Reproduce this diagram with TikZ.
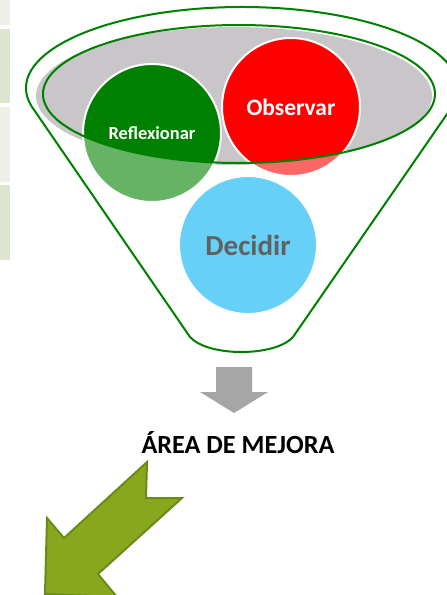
\documentclass[tikz,border=0pt]{standalone}
\usepackage{fontspec}
\setmainfont{Carlito}
\usepackage{tikz}
\definecolor{rimgreen}{HTML}{008000}
\definecolor{reflgreen}{HTML}{008000}
\definecolor{obsred}{HTML}{FF0000}
\definecolor{decblue}{HTML}{00B0F0}
\definecolor{rimgray}{HTML}{C8C6C8}
\definecolor{stripa}{HTML}{EEF0E8}
\definecolor{stripb}{HTML}{DDE4D0}
\definecolor{olive}{HTML}{88A61E}
\definecolor{olivedark}{HTML}{6B8A1A}
\tikzstyle{disc} = [circle, minimum size=138, inner sep=0pt, draw=white, line width=2pt, font=\bfseries]
\tikzstyle{rim} = [draw=rimgreen, line width=2pt]
\tikzstyle{inside} = [path picture={\fill[#1] (mid) ellipse[x radius=196, y radius=69];}]

\begin{document}
\begin{tikzpicture}[x=1pt, y=-1pt]
		\clip (0,0) rectangle (447,595);
		\fill[stripa] (0,0) rectangle (10,25);
		\fill[stripb] (0,29) rectangle (10,103);
		\fill[stripa] (0,107) rectangle (10,182);
		\fill[stripb] (0,185) rectangle (10,260);

		\coordinate (top) at (242,88);
		\coordinate (mid) at (239,94);
		\draw [rim] ([shift={(167:216 and 81)}]top) arc[start angle=167, end angle=373, x radius=216, y radius=81]
			-- (293,337) .. controls (275,357) and (208,357) .. (190,337) -- cycle;
		\fill[rimgray] (234,96) ellipse[x radius=198, y radius=69];

		\node (decidir) [disc, fill=decblue!60, text=black!62, font=\bfseries\fontsize{29}{30}\selectfont] at (248,245) {Decidir};
		\node (refl) [disc, fill=reflgreen!60, inside=reflgreen, text=white, font=\bfseries\fontsize{18.4}{20}\selectfont] at (152,133) {Reflexionar};
		\node (obs) [disc, fill=obsred!60, inside=obsred, text=white, font=\bfseries\fontsize{23.5}{25}\selectfont] at (291,107) {Observar};
		\draw [rim] (mid) ellipse[x radius=196, y radius=69];

		\fill[black!35] (216,367) -- (252,367) -- (252,392) -- (268,392) -- (234,413) -- (200,392) -- (216,392) -- cycle;
		\node (mejora) [font=\bfseries\fontsize{26.2}{28}\selectfont] at (238,443) {ÁREA DE MEJORA};

		\draw [fill=olive, draw=olivedark, line width=2pt, line join=miter] (147,462) -- (146,498) -- (182,498) -- (98,574) -- (117,597) -- (45,594) -- (47,518) -- (64,538) -- cycle;
	\end{tikzpicture}
\end{document}
